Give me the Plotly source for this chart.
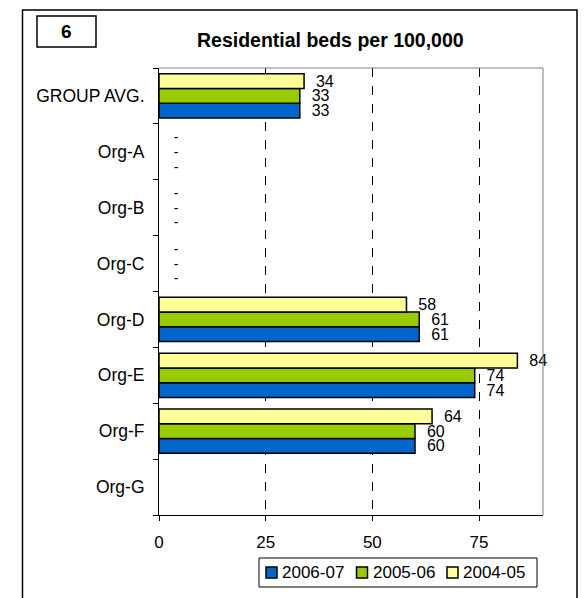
import plotly.graph_objects as go

categories = ["GROUP AVG.", "Org-A", "Org-B", "Org-C", "Org-D", "Org-E", "Org-F", "Org-G"]
series_names = ["2006-07", "2005-06", "2004-05"]
values_2006_07 = [33, None, None, None, 61, 74, 60, None]
values_2005_06 = [33, None, None, None, 61, 74, 60, None]
values_2004_05 = [34, None, None, None, 58, 84, 64, None]
labels_2006_07 = ["33", "-", "-", "-", "61", "74", "60", ""]
labels_2005_06 = ["33", "-", "-", "-", "61", "74", "60", ""]
labels_2004_05 = ["34", "-", "-", "-", "58", "84", "64", ""]
x_ticks = [0, 25, 50, 75]

colors = ["#0066CC", "#99CC00", "#FFFF99"]
FONT = "Liberation Sans, Arial"

W, H = 586, 598
L, R, T, B = 159, 43, 68, 83
pw, ph = W - L - R, H - T - B


def px_x(x):
    return (x - L) / pw


def px_y(y):
    return (H - B - y) / ph


fig = go.Figure()
for name, vals, labs, col in zip(
    series_names,
    [values_2006_07, values_2005_06, values_2004_05],
    [labels_2006_07, labels_2005_06, labels_2004_05],
    colors,
):
    fig.add_bar(
        y=categories,
        x=[v if v is not None else 0 for v in vals],
        orientation="h",
        name=name,
        marker=dict(color=col, line=dict(color="black",
                                         width=[1.5 if v is not None else 0 for v in vals])),
        text=[("\u00a0\u00a0" if t != "-" else "\u00a0\u00a0\u00a0") + t if t else "" for t in labs],
        textposition="outside",
        constraintext="none",
        cliponaxis=False,
        textfont=dict(family=FONT, size=[14 if t == "-" else 16 for t in labs], color="black"),
        hoverinfo="skip",
        showlegend=False,
    )

fig.update_layout(
    width=W,
    height=H,
    margin=dict(l=L, r=R, t=T, b=B, autoexpand=False),
    paper_bgcolor="white",
    plot_bgcolor="white",
    barmode="group",
    bargap=0.21,
    bargroupgap=0,
    font=dict(family=FONT, size=17, color="black"),
    showlegend=False,
)

fig.update_xaxes(
    range=[0, 90],
    tickvals=x_ticks,
    ticks="outside",
    ticklen=5,
    tickcolor="black",
    showline=True,
    linecolor="black",
    linewidth=1,
    showgrid=True,
    gridcolor="black",
    griddash="dash",
    gridwidth=1,
    zeroline=False,
    tickfont=dict(size=17),
    ticklabelstandoff=7,
)
fig.update_yaxes(
    categoryorder="array",
    categoryarray=categories[::-1],
    ticks="outside",
    tickson="boundaries",
    ticklen=5,
    tickcolor="black",
    showline=True,
    linecolor="black",
    linewidth=1,
    showgrid=False,
    tickfont=dict(size=17.5),
    ticklabelstandoff=10,
)

# gray frame on top/right of plot area
fig.add_shape(type="line", xref="paper", yref="paper", x0=0, x1=1, y0=1, y1=1,
              line=dict(color="#808080", width=1))
fig.add_shape(type="line", xref="paper", yref="paper", x0=1, x1=1, y0=0, y1=1,
              line=dict(color="#808080", width=1))

# outer frame
fig.add_shape(type="rect", xref="paper", yref="paper",
              x0=px_x(22.5), x1=px_x(577), y0=px_y(620), y1=px_y(10),
              line=dict(color="black", width=1.5), layer="below")

# number box
fig.add_shape(type="rect", xref="paper", yref="paper",
              x0=px_x(37), x1=px_x(96), y0=px_y(47), y1=px_y(16),
              line=dict(color="black", width=1.5))
fig.add_annotation(text="<b>6</b>", xref="paper", yref="paper",
                   x=px_x(66.5), y=px_y(31.5), xanchor="center", yanchor="middle",
                   showarrow=False, font=dict(size=19, color="black"))

fig.add_annotation(text="<b>Residential beds per 100,000</b>", xref="paper", yref="paper",
                   x=px_x(330), y=px_y(40), xanchor="center", yanchor="middle",
                   showarrow=False, font=dict(size=19.5, color="black"))

# legend box, drawn by hand to keep the compact Excel look
fig.add_shape(type="rect", xref="paper", yref="paper",
              x0=px_x(259), x1=px_x(537), y0=px_y(587), y1=px_y(558),
              line=dict(color="black", width=1), fillcolor="white")
for i, (name, col) in enumerate(zip(series_names, colors)):
    sx = 266 + i * 90.5
    fig.add_shape(type="rect", xref="paper", yref="paper",
                  x0=px_x(sx), x1=px_x(sx + 11), y0=px_y(578), y1=px_y(567),
                  line=dict(color="black", width=1.5), fillcolor=col)
    fig.add_annotation(text=name, xref="paper", yref="paper",
                       x=px_x(sx + 14), y=px_y(572.5), xanchor="left", yanchor="middle",
                       showarrow=False, font=dict(size=17, color="black"))

fig.write_html("out.html", config={"displayModeBar": False},
               post_script="document.body.style.margin='0px';")
